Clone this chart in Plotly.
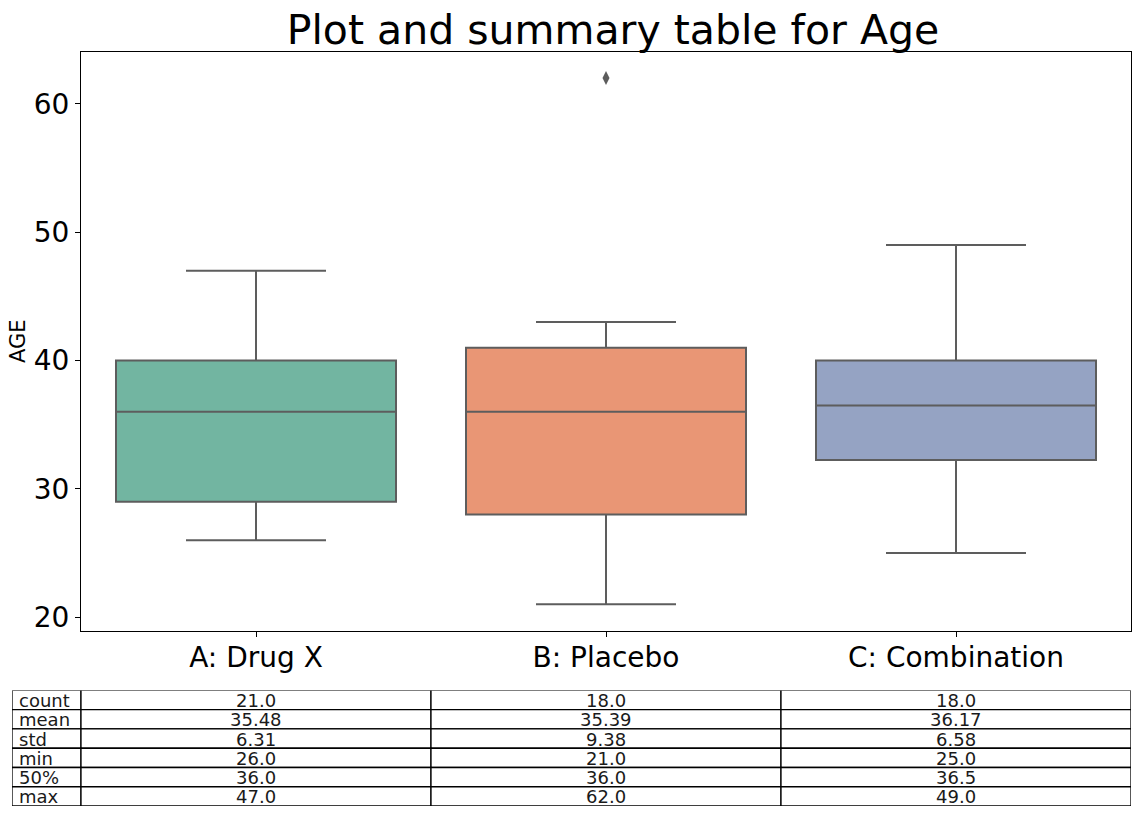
import plotly.graph_objects as go

W, H = 1140, 816

categories = ["A: Drug X", "B: Placebo", "C: Combination"]
q1 = [29.0, 28.0, 32.25]
median = [36.0, 36.0, 36.5]
q3 = [40.0, 41.0, 40.0]
lower_whisker = [26.0, 21.0, 25.0]
upper_whisker = [47.0, 43.0, 49.0]
outlier_cats = ["B: Placebo"]
outlier_vals = [62.0]
colors = ["#72b5a1", "#e99675", "#95a3c3"]

stat_labels = ["count", "mean", "std", "min", "50%", "max"]
stats_a = ["21.0", "35.48", "6.31", "26.0", "36.0", "47.0"]
stats_b = ["18.0", "35.39", "9.38", "21.0", "36.0", "62.0"]
stats_c = ["18.0", "36.17", "6.58", "25.0", "36.5", "49.0"]

LINE = "#5d5d5d"
FONT = "DejaVu Sans"

fig = go.Figure()
for i, cat in enumerate(categories):
    fig.add_trace(go.Box(
        x=[cat], q1=[q1[i]], median=[median[i]], q3=[q3[i]],
        lowerfence=[lower_whisker[i]], upperfence=[upper_whisker[i]],
        fillcolor=colors[i], line=dict(color=LINE, width=2),
        width=0.8, whiskerwidth=0.5, boxpoints=False, showlegend=False,
        xaxis="x", yaxis="y",
    ))

fig.add_trace(go.Scatter(
    x=outlier_cats, y=outlier_vals, mode="markers",
    marker=dict(symbol="diamond-tall", size=10, color=LINE),
    showlegend=False,
))

# ---- summary table drawn on its own axes (x2 / y2) ----
col_widths = [69, 350, 350, 350]
edges = [0]
for w in col_widths:
    edges.append(edges[-1] + w)
columns = [stat_labels, stats_a, stats_b, stats_c]
n_rows = len(stat_labels)
table_top, table_bottom = 693, 809
row_px = (table_bottom - table_top) / n_rows

shapes = []
for r in range(n_rows):
    for c in range(len(columns)):
        shapes.append(dict(type="rect", xref="x2", yref="y2",
                           x0=edges[c], x1=edges[c + 1], y0=r, y1=r + 1,
                           line=dict(color="black", width=1.3),
                           fillcolor="white", layer="below"))

annotations = []
for c, col in enumerate(columns):
    for r, val in enumerate(col):
        if c == 0:
            ax, anchor = edges[c] + 6, "left"
        else:
            ax, anchor = (edges[c] + edges[c + 1]) / 2, "center"
        annotations.append(dict(xref="x2", yref="y2", x=ax, y=r + 0.5,
                                text=val, showarrow=False,
                                xanchor=anchor, yanchor="middle",
                                height=int(row_px) - 1, borderpad=0,
                                font=dict(family=FONT, size=18, color="#1a1a1a")))

fig.update_layout(
    width=W, height=H,
    margin=dict(l=0, r=0, t=0, b=0),
    paper_bgcolor="white", plot_bgcolor="white",
    font=dict(family=FONT, color="black"),
    title=dict(text="Plot and summary table for Age", xref="paper",
               x=613 / W, xanchor="center",
               y=1 - 30 / H, yanchor="middle",
               font=dict(family=FONT, size=41, color="black")),
    xaxis=dict(domain=[81 / W, 1131 / W], type="category",
               categoryorder="array", categoryarray=categories,
               range=[-0.5, 2.5],
               showline=True, mirror=True, linecolor="black", linewidth=1,
               ticks="outside", ticklen=5, tickcolor="black",
               ticklabelstandoff=-3,
               showgrid=False, zeroline=False,
               tickfont=dict(family=FONT, size=28, color="black")),
    yaxis=dict(domain=[(H - 633) / H, (H - 52) / H],
               range=[18.95, 64.05], tickvals=[20, 30, 40, 50, 60],
               showline=True, mirror=True, linecolor="black", linewidth=1,
               ticks="outside", ticklen=5, tickcolor="black",
               showgrid=False, zeroline=False,
               title=dict(text="AGE", font=dict(family=FONT, size=21, color="black"),
                          standoff=2),
               tickfont=dict(family=FONT, size=28, color="black")),
    xaxis2=dict(domain=[12 / W, 1131 / W], range=[edges[0], edges[-1]],
                visible=False, fixedrange=True),
    yaxis2=dict(domain=[(H - table_bottom) / H, (H - table_top) / H],
                range=[n_rows, 0], visible=False, fixedrange=True),
    shapes=shapes,
    annotations=annotations,
)

fig.write_html("out.html")
